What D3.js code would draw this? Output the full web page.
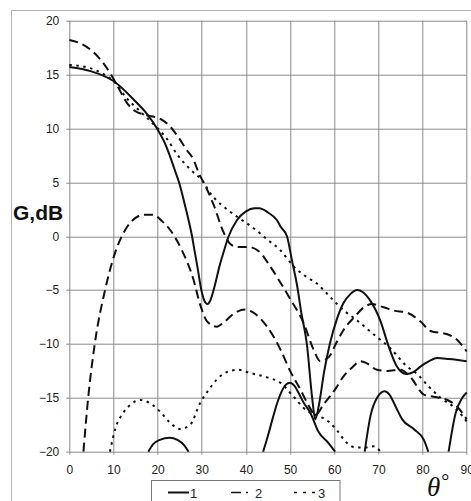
<!DOCTYPE html>
<html>
<head>
<meta charset="utf-8">
<script src="https://cdn.jsdelivr.net/npm/d3@7"></script>
<style>
  body { margin: 0; background: #fff; }
  svg { display: block; font-family: "Liberation Sans", Arial, sans-serif; }
  .grid line { stroke: #8a8a8a; stroke-width: 1; }
  .tick text { fill: #222; font-size: 12px; }
  .line { fill: none; stroke: #111; stroke-width: 2; stroke-linejoin: round; }
</style>
</head>
<body>
<svg id="chart" width="471" height="501"></svg>
<script>

// axis ticks
var xTicks = [0, 10, 20, 30, 40, 50, 60, 70, 80, 90];
var yTicks = [-20, -15, -10, -5, 0, 5, 10, 15, 20];

// curve 1 (solid) - main lobe and lower pieces cut at -20 dB
var s1Main = [[0,15.7],[5,15.3],[10,14.4],[15,12.5],[17.5,11.4],[20,9.9],[22,8.3],[23,7.2],[24,6],[25,4.8],[26,3.2],[27,1.5],[27.8,0],[28.3,-1.2],[29,-2.8],[29.9,-5],[30.6,-6],[31.3,-6.3],[32,-5.9],[33,-4.5],[34,-2.8],[35,-1.4],[36,-0.1],[38,1.5],[40,2.3],[42,2.6],[43,2.6],[45,2.2],[47,1.5],[48,0.8],[49.3,0],[50.4,-2.2],[51.6,-4.6],[52.5,-7],[53.8,-10],[55,-15],[55.7,-17],[56.6,-15.5],[57.7,-12.6],[59,-10],[60.6,-7.7],[62.1,-6.2],[63.6,-5.4],[65.2,-5],[66.5,-5.2],[68.2,-6],[70.5,-7.9],[72.3,-10.2],[74.2,-12.1],[76.3,-12.8],[78,-12.6],[79.5,-12.1],[81.5,-11.6],[83.3,-11.3],[86,-11.4],[90,-11.6]];
var s1LowA = [[17.9,-20],[19,-19.3],[20.5,-18.9],[22.7,-18.7],[24.5,-18.9],[26,-19.4],[27,-20]];
var s1LowB = [[43.9,-20],[45,-18.5],[46,-17],[47,-15.6],[48,-14.5],[49,-13.8],[50,-13.6],[51,-13.9],[52,-14.6],[53,-15.4],[54.6,-16.4],[56.5,-18.2],[58.7,-19.2],[60.2,-20]];
var s1LowC = [[66.9,-20],[68.2,-16.7],[69.7,-15],[71.4,-14.4],[72.5,-14.7],[73.9,-15.8],[75.4,-17],[78,-17.9],[80.3,-18.9],[81.3,-20]];
var s1LowD = [[85.9,-20],[87.5,-16.4],[89,-15],[90,-14.5]];

// curve 2 (dashed)
var s2Main = [[0,18.2],[2.5,17.9],[5.4,17.1],[8,15.9],[9.6,14.9],[11.1,13.8],[13,12.4],[15,11.6],[16.8,11.3],[19.8,11],[21,10.8],[22.8,10.2],[24.5,9.3],[26.6,8],[28,7.2],[29.6,5.6],[30.4,5],[32.7,2.9],[34.9,0.4],[36.4,-0.7],[38,-1],[40.6,-1],[43.2,-1.5],[45.5,-2.8],[47.8,-4.3],[50,-5.8],[53,-8],[55.3,-10.5],[56.8,-11.6],[58.8,-11.2],[60.6,-9.8],[62.1,-8.7],[64.8,-7.4],[66.7,-6.6],[68.6,-6.3],[71.2,-6.6],[73.5,-6.9],[76.5,-7.1],[79.5,-7.9],[81.8,-8.8],[85.6,-9.1],[87.8,-9.6],[90,-10.7]];
var s2Side = [[3.2,-20],[4.3,-14.9],[5.8,-9.9],[8.1,-5],[10.4,-1.5],[13,0.8],[15,1.7],[16.8,2],[19,2],[21,1.4],[22.8,0.6],[25.5,-1.3],[28.1,-4],[29.6,-6.3],[31.2,-7.9],[33.4,-8.4],[35,-8],[37.2,-7.2],[39.8,-6.8],[41.7,-7.1],[44.8,-8.4],[47.8,-10.5],[50,-12.5],[52.3,-14.2],[54.6,-16],[55.7,-16.6],[57.6,-15.6],[60.4,-14.1],[62.1,-13],[64,-12.2],[65.9,-11.6],[67.4,-11.8],[69.7,-12.4],[72,-12.5],[75,-12.4],[77.3,-13.1],[80.3,-14.7],[82.5,-14.9],[85.6,-15.2],[87.8,-15.8],[90,-17]];

// curve 3 (dotted)
var s3Main = [[0,15.9],[4.7,15.6],[7.5,15.1],[10,14.4],[13,12.8],[16,11.6],[19.8,10.1],[22,9.1],[24.4,7.6],[27.4,6.2],[30.4,5],[31.9,4],[33.4,3.3],[35.7,2.5],[38,1.8],[40.2,1.2],[42.5,0.5],[44.8,-0.3],[47.8,-1.3],[50.8,-2.8],[53.8,-3.8],[56.1,-4.4],[57.6,-5],[60.4,-6.2],[62.5,-7],[64.8,-7.7],[68.9,-9.1],[72.7,-10.4],[76.5,-12.1],[78.8,-12.8],[81.5,-14],[84.1,-15],[87.8,-16.1],[90,-17.2]];
var s3Side = [[9.2,-20],[10.4,-17.9],[12.2,-16.4],[14,-15.6],[16,-15.2],[18.3,-15.5],[20.6,-16.3],[22.8,-17.3],[25.1,-17.9],[27.4,-17.5],[29.6,-15.5],[31.5,-14.3],[33.4,-13.3],[36.4,-12.5],[38.3,-12.4],[41,-12.7],[44.8,-13.1],[47.8,-13.6],[50.8,-14.9],[53.8,-16.2],[56.5,-16.7],[58.7,-17.2],[60.4,-17.9],[62.9,-19.2],[64.8,-19.6],[67,-19.6],[68.9,-19.5],[70.5,-20]];

var legendLabels = ["1", "2", "3"];

var svg = d3.select("#chart"),
    margin = {top: 20.7, right: 4.3, bottom: 49.3, left: 69.3},
    width = 471 - margin.left - margin.right,
    height = 501 - margin.top - margin.bottom;

var dashes = ["none", "9,5", "2.5,4.5"];

var xScale = d3.scaleLinear().domain([0, 90]).range([0, width]),
    yScale = d3.scaleLinear().domain([-20, 20]).range([height, 0]);

// outer frame
svg.append("rect")
    .attr("x", 11.5).attr("y", 10.5)
    .attr("width", 480).attr("height", 500)
    .attr("fill", "none").attr("stroke", "#b4b4b4");

var g = svg.append("g").attr("transform", "translate(" + margin.left + "," + margin.top + ")");

g.append("clipPath").attr("id", "clip")
  .append("rect").attr("x", -1).attr("y", -1).attr("width", width + 2).attr("height", height + 2);

// grid
var grid = g.append("g").attr("class", "grid");
grid.selectAll(".gx").data(xTicks).enter().append("line")
    .attr("x1", function(d) { return Math.round(xScale(d)) + 0.5; })
    .attr("x2", function(d) { return Math.round(xScale(d)) + 0.5; })
    .attr("y1", 0).attr("y2", height + 3);
grid.selectAll(".gy").data(yTicks).enter().append("line")
    .attr("y1", function(d) { return Math.round(yScale(d)) + 0.5; })
    .attr("y2", function(d) { return Math.round(yScale(d)) + 0.5; })
    .attr("x1", -3).attr("x2", width);

// axes labels
var xAxis = d3.axisBottom(xScale).tickValues(xTicks).tickSize(0).tickPadding(14);
var yAxis = d3.axisLeft(yScale).tickValues(yTicks).tickSize(0).tickPadding(10);

g.append("g").attr("class", "axis axis--x")
    .attr("transform", "translate(0," + height + ")")
    .call(xAxis)
  .select(".domain").remove();

g.append("g").attr("class", "axis axis--y")
    .call(yAxis)
  .select(".domain").remove();

g.selectAll(".tick text").attr("font-family", null).attr("font-size", null);

// curves
var line = d3.line()
    .x(function(d) { return xScale(d[0]); })
    .y(function(d) { return yScale(d[1]); })
    .curve(d3.curveMonotoneX);

var curves = [
  {data: s1Main, s: 0}, {data: s1LowA, s: 0}, {data: s1LowB, s: 0}, {data: s1LowC, s: 0}, {data: s1LowD, s: 0},
  {data: s2Main, s: 1}, {data: s2Side, s: 1},
  {data: s3Main, s: 2}, {data: s3Side, s: 2}
];

g.append("g").attr("clip-path", "url(#clip)")
  .selectAll(".line").data(curves).enter().append("path")
    .attr("class", "line")
    .attr("d", function(d) { return line(d.data); })
    .attr("stroke-dasharray", function(d) { return dashes[d.s]; })
    .attr("stroke-width", function(d) { return d.s === 2 ? 2.2 : 2; });

// titles
svg.append("text")
    .attr("x", 13).attr("y", 220)
    .attr("font-size", "21px").attr("font-weight", "bold").attr("fill", "#111")
    .text("G,dB");

var th = svg.append("text")
    .attr("x", 427).attr("y", 496)
    .attr("font-family", "'Liberation Serif', 'DejaVu Serif', serif")
    .attr("fill", "#111");
th.append("tspan").attr("font-style", "italic").attr("font-size", "27px").text("θ");
th.append("tspan").attr("font-size", "20px").attr("dy", -8).attr("dx", 1).text("°");

// legend
var legend = svg.append("g");
legend.append("rect")
    .attr("x", 151.5).attr("y", 480.5)
    .attr("width", 188.5).attr("height", 40)
    .attr("fill", "#fff").attr("stroke", "#777");

var legItem = legend.selectAll(".leg").data(legendLabels).enter().append("g")
    .attr("transform", function(d, i) { return "translate(" + (168 + i * 63) + ",492.5)"; });

legItem.append("line")
    .attr("x1", 0).attr("x2", 21)
    .attr("stroke", "#111")
    .attr("stroke-width", function(d, i) { return i === 0 ? 2 : 1.5; })
    .attr("stroke-dasharray", function(d, i) { return i === 0 ? "none" : (i === 1 ? "10,5,2,4" : "3,6"); });

legItem.append("text")
    .attr("x", function(d, i) { return i === 0 ? 22 : 24; })
    .attr("y", 5)
    .attr("font-size", "13px").attr("fill", "#222")
    .text(function(d) { return d; });

</script>
</body>
</html>
